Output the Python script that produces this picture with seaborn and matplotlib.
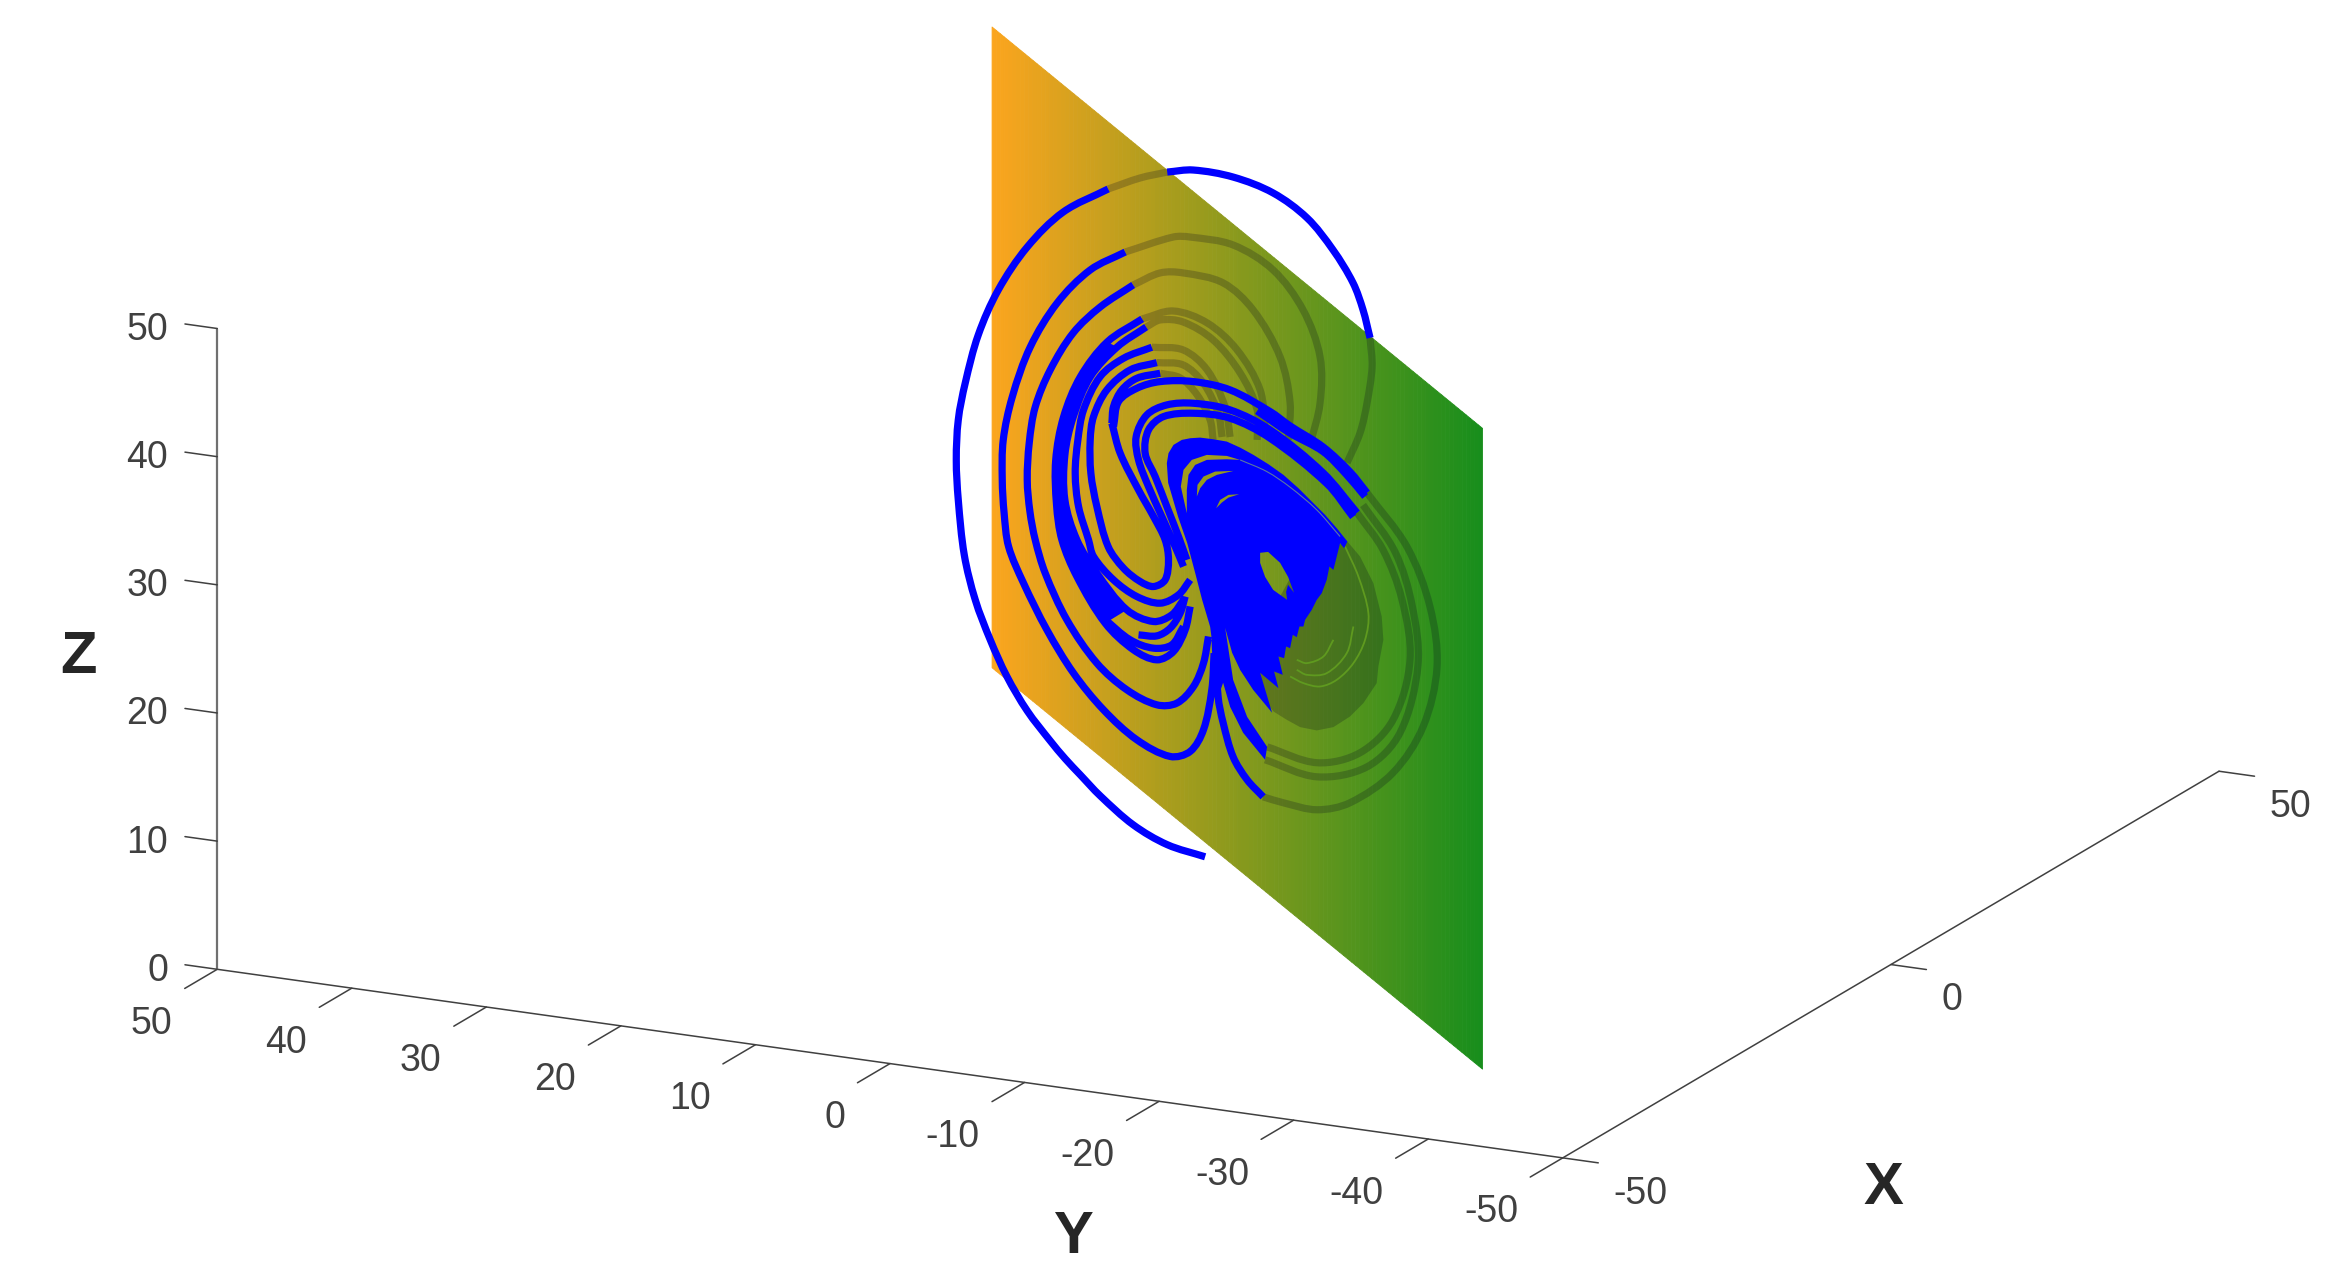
import numpy as np
import matplotlib
matplotlib.use('Agg')
import matplotlib.pyplot as plt
import seaborn as sns
from matplotlib.patches import PathPatch
from matplotlib.path import Path
from mpl_toolkits.mplot3d import art3d
from mpl_toolkits.mplot3d.art3d import Poly3DCollection

# tick values
x_ticks = [-50, 0, 50]
y_ticks = [50, 40, 30, 20, 10, 0, -10, -20, -30, -40, -50]
z_ticks = [0, 10, 20, 30, 40, 50]

# plane, orange end to green end
plane_x_ends = [34.75, -34.75]
plane_y_ends = [33.75, -36.6]
plane_z_ends = [0.35, 50.35]
plane_orange = '#fba51e'
plane_green = '#188e1c'

# trajectory (y, z); x follows from the viewing plane
outer_y = [0.78, 3.06, 5.10, 7.08, 8.28, 9.18, 10.08, 11.46, 12.68, 13.68, 14.58, 15.24, 15.6, 15.72, 15.6, 15.18, 14.4, 13.2, 11.46, 9.3, 6.6]
outer_z = [1.05, 2.0, 3.55, 5.81, 7.45, 8.7, 10.1, 12.44, 15.12, 17.98, 21.1, 24.61, 28.9, 32.02, 35.14, 38.03, 41.77, 45.28, 48.63, 51.36, 53.16]
top_y = [3.06, 1.5, -0.9, -3.3, -5.34, -6.9, -8.1, -8.7, -9.12]
top_z = [54.48, 54.64, 54.09, 52.85, 50.9, 48.4, 45.83, 43.72, 41.54]
leg_y = [-2.7, -1.74, -0.9, -0.3, 0, 0.18]
leg_z = [5.73, 7.06, 8.85, 11.51, 13.53, 17.98]
loop_b_y = [5.58, 7.68, 9.66, 11.28, 12.36, 12.9, 12.96, 12.85, 12.58, 11.68, 10.28, 8.68, 6.88, 4.88, 2.88, 1.68, 0.88, 0.38, 0.24]
loop_b_z = [48.24, 46.84, 44.27, 40.83, 36.93, 33.58, 30.46, 27.9, 25.26, 22.4, 18.76, 15.38, 12.52, 10.18, 8.88, 9.27, 10.96, 14.08, 16.94]
loop_c_y = [5.1, 7.08, 8.7, 10.08, 10.98, 11.34, 11.46, 11.3, 10.98, 10.38, 9.08, 7.28, 5.48, 3.68, 2.48, 1.48, 0.88, 0.58]
loop_c_z = [45.67, 43.95, 41.93, 39.04, 36.15, 33.35, 30.46, 28.0, 25.78, 23.18, 19.54, 16.16, 14.08, 12.91, 13.04, 14.34, 16.16, 18.24]
loop_d1_y = [4.56, 6.66, 8.28, 9.28, 9.75, 9.7, 9.38, 8.48, 6.78, 5.08, 3.68, 2.68, 1.98, 1.68]
loop_d1_z = [43.02, 41.22, 38.49, 35.37, 32.02, 28.5, 25.78, 22.92, 19.28, 17.2, 16.42, 17.07, 18.76, 20.58]
loop_d2_y = [4.32, 6.06, 7.68, 8.7, 9.2, 9.2, 8.48, 7.28, 5.48, 3.88, 2.78, 2.08]
loop_d2_z = [42.39, 40.83, 38.49, 35.37, 32.41, 28.9, 25.78, 23.18, 20.32, 19.41, 19.93, 21.1]
band_fill_y = [6.66, 8.28, 9.28, 9.75, 9.7, 9.38, 8.48, 6.78, 5.48, 7.28, 8.48, 9.2, 9.2, 8.7, 7.68, 6.06]
band_fill_z = [41.22, 38.49, 35.37, 32.02, 28.5, 25.78, 22.92, 19.28, 20.32, 23.18, 25.78, 28.9, 32.41, 35.37, 38.49, 40.83]
loop_e_y = [3.98, 5.68, 7.08, 8.08, 8.42, 8.58, 8.38, 7.78, 7.48, 6.28, 4.88, 3.48, 2.38, 1.68]
loop_e_z = [40.81, 39.95, 38.52, 35.92, 33.58, 30.98, 28.38, 25.78, 24.48, 22.66, 21.36, 20.84, 21.49, 22.66]
loop_f_y = [3.68, 5.28, 6.68, 7.48, 7.68, 7.64, 7.28, 6.6, 5.68, 4.68, 3.88, 3.18, 2.98, 3.18, 3.88, 4.78, 5.88, 6.38]
loop_f_z = [39.61, 39.04, 37.48, 35.4, 33.58, 30.98, 28.38, 25.25, 23.57, 22.53, 22.14, 22.66, 24.22, 25.78, 27.6, 29.68, 32.54, 34.88]
loop_g_y = [3.48, 4.88, 5.78, 6.28, 6.38]
loop_g_z = [38.78, 38.39, 37.48, 36.18, 34.88]
arc_4_y = [4.78, 3.68, 2.88, 2.28, 1.98]
arc_4_z = [18.37, 18.29, 18.89, 20.06, 21.36]
arc_5_y = [6.88, 5.28, 3.88, 2.78, 2.08]
arc_5_z = [19.67, 17.98, 17.33, 17.59, 19.02]
ridge_y = [6.28, 5.98, 4.88, 3.48, 1.48, -0.72, -3.12, -4.32, -6.3, -7.92, -8.94]
ridge_z = [34.62, 36.57, 37.61, 38.13, 38.13, 37.48, 35.79, 34.67, 33.03, 31.08, 29.45]
ridge2_y = [-2.34, -4.32, -6.3, -7.72, -8.82]
ridge2_z = [35.84, 34.1, 32.67, 30.85, 29.16]
band_y = [2.08, 2.58, 3.38, 4.18, 4.78, 4.92, 4.28, 3.08, 1.48, -0.72, -3.12, -6.3, -8.34]
band_z = [23.7, 25.26, 27.6, 29.94, 32.02, 33.84, 35.53, 36.31, 36.44, 35.92, 34.36, 31.01, 27.89]
band2_y = [1.88, 2.38, 3.08, 3.78, 4.38, 4.18, 3.28, 1.48, -0.72, -3.12, -6.54, -8.1]
band2_z = [24.22, 26.04, 28.38, 30.72, 32.54, 34.36, 35.4, 35.66, 35.27, 33.71, 30.15, 27.57]

# dense part of the trajectory, outline with the eye cut out
fan_y = [3.08, 2.98, 2.68, 2.18, 1.68, 1.08, 0.28, -0.52, -1.32, -2.12, -3.02, -3.92, -4.82, -5.72, -6.42, -7.12,
         -7.76, -7.56, -7.32, -7.12, -6.92, -6.68, -6.52,
         -4.56, -4.2, -3.72, -3.0, -2.52, -2.52, -2.82, -3.3, -4.14, -4.08, -4.2, -4.56, -6.52,
         -6.22, -5.92, -5.62, -5.22, -5.12, -4.88, -4.72, -4.48, -4.32, -4.08, -3.96, -3.62, -3.88, -3.36, -3.62,
         -2.52, -3.24, -2.1, -1.32, -0.84, -0.42, -0.9, -1.74, -2.94, -2.82, -1.5, -0.72, -0.3, 0, 0.3, 0.48,
         0.96, 1.38, 1.86, 2.4, 3.0]
fan_z = [31.76, 32.54, 33.19, 33.58, 33.71, 33.76, 33.63, 33.45, 32.98, 32.41, 31.68, 30.85, 29.81, 28.64, 27.73, 26.69,
         25.65, 25.13, 25.52, 24.48, 23.44, 23.7, 22.66,
         21.65, 22.89, 23.99, 24.84, 24.77, 23.99, 22.89, 21.88, 21.1, 21.72, 22.27, 21.65, 22.66,
         21.62, 21.1, 20.32, 19.54, 19.02, 19.02, 18.19, 18.37, 17.33, 17.46, 16.55, 16.68, 15.25, 15.51, 14.21,
         15.41, 12.29, 14.08, 15.64, 16.97, 18.92, 14.86, 11.97, 9.63, 8.62, 10.73, 12.75, 14.63, 13.53, 17.2, 19.0,
         21.1, 23.21, 25.55, 27.57, 30.23]

# slits left open inside the dense part
slit_a_y = [1.88, 2.24, 2.08, 1.58, 0.68, -0.52, -1.32, -0.52, 0.68, 1.38, 1.78, 1.88]
slit_a_z = [27.86, 29.94, 31.24, 32.02, 32.41, 32.33, 32.02, 32.07, 32.02, 31.63, 30.85, 29.68]
slit_b_y = [1.28, 1.24, 0.88, 0.18, -0.92, 0.08, 0.68, 1.08]
slit_b_z = [29.16, 30.07, 30.72, 31.11, 31.16, 30.85, 30.46, 29.81]
slit_c_y = [0.12, -0.12, -0.62, -1.26, -0.62, -0.22]
slit_c_z = [28.25, 28.9, 29.29, 29.34, 29.08, 28.69]
slit_line_y = [-1.32, -2.92, -4.32, -5.92, -7.32]
slit_line_z = [32.02, 31.11, 29.89, 28.12, 26.04]

# parts of the trajectory behind the plane
back_a_y = [6.6, 4.68, 3.06]
back_a_z = [53.16, 54.02, 54.48]
back_top_y = [-9.12, -9.24, -8.94, -8.52, -7.74]
back_top_z = [41.54, 39.27, 36.47, 34.13, 31.79]
back_right_y = [-8.94, -11.34, -12.72, -13.14, -12.3, -10.5, -7.92, -5.94, -3.9, -2.7]
back_right_z = [29.45, 25.23, 20.55, 15.87, 11.19, 7.61, 5.27, 4.72, 5.27, 5.73]
back_b_y = [5.58, 2.7, 1.68, -0.9, -3.3, -5.1, -6.12, -6.12, -5.52]
back_b_z = [48.24, 49.41, 49.41, 48.79, 46.84, 43.72, 40.05, 36.47, 33.19]
back_c_y = [5.1, 3.48, 2.1, -0.3, -2.1, -3.72, -4.32, -4.2]
back_c_z = [45.67, 46.61, 46.61, 45.83, 43.72, 40.05, 36.47, 33.58]
back_d1_y = [4.56, 2.7, 0.66, -1.14, -2.52, -2.82]
back_d1_z = [43.02, 43.64, 42.71, 40.6, 37.48, 34.36]
back_d2_y = [4.32, 3.48, 2.1, 0.3, -1.32, -2.34, -2.34]
back_d2_z = [42.39, 42.94, 42.78, 41.38, 38.81, 35.92, 33.58]
back_e_y = [3.98, 2.1, 0.66, -0.42, -0.72]
back_e_z = [40.81, 40.6, 39.04, 36.15, 33.81]
back_f_y = [3.68, 2.1, 0.9, 0, -0.24]
back_f_z = [39.61, 39.43, 38.03, 35.68, 33.81]
back_g_y = [3.48, 2.28, 1.26, 0.48, 0.3]
back_g_z = [38.78, 38.42, 37.09, 35.14, 33.58]
back_arc2_y = [-8.34, -9.9, -11.04, -11.52, -10.5, -8.52, -5.94, -2.94]
back_arc2_z = [27.89, 25, 21.1, 16.42, 11.74, 9.17, 8.39, 9.63]
back_arc3_y = [-8.7, -10.62, -11.64, -12.0, -10.92, -8.94, -5.94, -2.82]
back_arc3_z = [28.5, 24.84, 20.7, 16.03, 10.73, 8.07, 7.29, 8.62]
back_fan_y = [-7.76, -8.52, -9.32, -9.82, -9.92, -9.62, -9.52, -8.72, -7.92, -6.92, -5.92, -4.92, -4.12, -3.32, -1.32, -4.92]
back_fan_z = [25.65, 24.48, 22.4, 19.8, 17.98, 15.9, 14.6, 13.04, 12, 11.17, 10.91, 11.17, 11.74, 12.39, 15.64, 24.22]
gap_1_y = [-7.62, -8.42, -9.02, -8.82, -8.12, -7.12, -6.12, -5.12, -4.32]
gap_1_z = [25.26, 22.92, 20.06, 17.98, 16.16, 14.86, 14.34, 14.6, 15.12]
gap_2_y = [-8.12, -7.72, -6.52, -5.32, -4.72]
gap_2_z = [19.02, 16.94, 15.38, 15.25, 15.64]
gap_3_y = [-6.92, -6.32, -5.32, -4.72]
gap_3_z = [17.98, 16.68, 16.16, 16.42]

# the curve is only seen from one side, so its depth lies along the view
DEPTH = -0.488
SCREEN_SCALE = np.array([16.69, 12.81])


def smooth_patch(ax, strands, **kw):
    # one path through the read points, drawn as a curve and not as straight pieces
    verts, codes = [], []
    for y, z in strands:
        p = np.column_stack([y, z])
        d = np.linalg.norm(np.diff(p, axis=0) * SCREEN_SCALE, axis=1)
        t = np.zeros_like(p)
        t[0] = (p[1] - p[0]) / d[0]
        t[-1] = (p[-1] - p[-2]) / d[-1]
        for i in range(1, len(p) - 1):
            t[i] = (p[i + 1] - p[i - 1]) / (d[i - 1] + d[i])
        verts.append(p[0])
        codes.append(Path.MOVETO)
        for i in range(len(p) - 1):
            verts += [p[i] + t[i] * d[i] / 3, p[i + 1] - t[i + 1] * d[i] / 3, p[i + 1]]
            codes += [Path.CURVE4] * 3
    verts = np.array(verts)
    patch = PathPatch(Path(verts, codes), fill=False, capstyle='butt', joinstyle='round', **kw)
    ax.add_patch(patch)
    art3d.pathpatch_2d_to_3d(patch, z=0, zdir='x')
    patch._segment3d = np.column_stack([DEPTH * verts[:, 0], verts[:, 0], verts[:, 1]])
    return patch


def add_poly(ax, y, z, **kw):
    y = np.array(y)
    poly = Poly3DCollection([list(zip(DEPTH * y, y, z))], **kw)
    ax.add_collection3d(poly)
    return poly


sns.set_theme(style='white')
plt.rcParams['font.family'] = ['Liberation Sans', 'DejaVu Sans']

W, H, S = 2336, 1280, 2600
fig = plt.figure(figsize=(W / 100, H / 100), dpi=100, facecolor='white')
ax = fig.add_axes([-117 / W, -605 / H, S / W, S / H], projection='3d', computed_zorder=False,
                  proj_type='ortho', facecolor='none')
ax.view_init(elev=16.7, azim=206)
ax.set_box_aspect((1497, 1497, 669), zoom=0.829)

# plane
n = 120
px = np.linspace(plane_x_ends[0], plane_x_ends[1], n + 1)
py = np.linspace(plane_y_ends[0], plane_y_ends[1], n + 1)
X = np.vstack([px, px])
Y = np.vstack([py, py])
Z = np.vstack([np.full(n + 1, plane_z_ends[0]), np.full(n + 1, plane_z_ends[1])])
colors = np.array(sns.blend_palette([plane_orange, plane_green], n_colors=n))
surf = ax.plot_surface(X, Y, Z, facecolors=colors[None, :, :], rstride=1, cstride=1, shade=False,
                       linewidth=0.6, zorder=1)
surf.set_edgecolor(surf.get_facecolor())

# behind the plane
back_color = (0, 0, 0.12, 0.22)
smooth_patch(ax, [(back_a_y, back_a_z), (back_top_y, back_top_z), (back_right_y, back_right_z),
                  (back_b_y, back_b_z), (back_c_y, back_c_z), (back_d1_y, back_d1_z),
                  (back_d2_y, back_d2_z), (back_e_y, back_e_z), (back_f_y, back_f_z),
                  (back_g_y, back_g_z), (back_arc2_y, back_arc2_z), (back_arc3_y, back_arc3_z)],
             edgecolor=back_color, lw=5.2, zorder=2)
add_poly(ax, back_fan_y, back_fan_z, facecolor=back_color, edgecolor='none', zorder=2)
smooth_patch(ax, [(gap_1_y, gap_1_z), (gap_2_y, gap_2_z), (gap_3_y, gap_3_z)],
             edgecolor='#5f9a1f', lw=1.3, zorder=2)

# in front of the plane
smooth_patch(ax, [(outer_y, outer_z), (top_y, top_z), (leg_y, leg_z), (loop_b_y, loop_b_z),
                  (loop_c_y, loop_c_z), (loop_d1_y, loop_d1_z), (loop_d2_y, loop_d2_z),
                  (loop_e_y, loop_e_z), (loop_f_y, loop_f_z),
                  (loop_g_y, loop_g_z), (arc_4_y, arc_4_z), (arc_5_y, arc_5_z),
                  (ridge_y, ridge_z), (ridge2_y, ridge2_z), (band_y, band_z), (band2_y, band2_z)],
             edgecolor='#0000ff', lw=5.2, zorder=3)
add_poly(ax, band_fill_y, band_fill_z, facecolor='#0000ff', edgecolor='none', zorder=3)
add_poly(ax, fan_y, fan_z, facecolor='#0000ff', edgecolor='none', zorder=3)
add_poly(ax, slit_a_y, slit_a_z, facecolor='#a29c1d', edgecolor='none', zorder=4)
add_poly(ax, slit_b_y, slit_b_z, facecolor='#979b1d', edgecolor='none', zorder=4)
add_poly(ax, slit_c_y, slit_c_z, facecolor='#909a1d', edgecolor='none', zorder=4)
smooth_patch(ax, [(slit_line_y, slit_line_z)], edgecolor='#5a78a0', lw=0.8, zorder=4)

ax.set_xlim(-50, 50, view_margin=0)
ax.set_ylim(-50, 50, view_margin=0)
ax.set_zlim(0, 50, view_margin=0)
ax.set_xticks(x_ticks)
ax.set_yticks(y_ticks)
ax.set_zticks(z_ticks)
ax.set_xticklabels([])
ax.set_yticklabels([])
ax.set_zticklabels([])
ax.grid(False)

for axis, tick_in, tick_out in ((ax.xaxis, 0.33, 0), (ax.yaxis, 0.62, 0), (ax.zaxis, 0, 0.3)):
    axis.pane.set_visible(False)
    axis.line.set_color('#404040')
    axis.line.set_linewidth(1.1)
    info = axis._axinfo['tick']
    info['inward_factor'] = tick_in
    info['outward_factor'] = tick_out
    info['linewidth'] = {True: 1.1, False: 1.1}
    info['color'] = '#404040'
    axis.set_tick_params(color='#404040', width=1.1)
ax.zaxis.line.set_color('#707070')
ax.zaxis.line.set_linewidth(1.6)
# z ticks run along y in the reference
ax.zaxis._get_tickdir = lambda pos: 1

tick_font = dict(fontsize=27, color='#404040')
for v in x_ticks:
    ax.text(v, -53.75, -2.25, str(v), ha='left', va='center', **tick_font)
for v in y_ticks:
    ax.text(-56.8, v, -2.2, str(v), ha='right', va='center', **tick_font)
for v in z_ticks:
    ax.text(-50, 53.65, v - 0.65, str(v), ha='right', va='center', **tick_font)

label_font = dict(fontsize=43, fontweight='bold', color='#262626', ha='center', va='center')
ax.text(-50, -73.8, 1.15, 'X', **label_font)
ax.text(-50, -13.6, -11.55, 'Y', **label_font)
ax.text(-50, 60.3, 22.8, 'Z', rotation=90, **label_font)

fig.savefig('out.png', dpi=100)
